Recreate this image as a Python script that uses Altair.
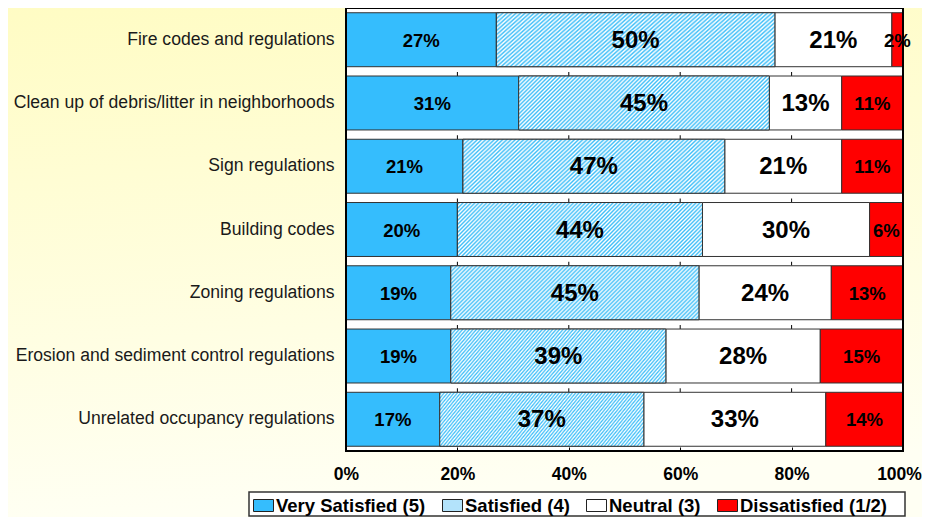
import altair as alt
import pandas as pd

# ---------------- data ----------------
CATEGORIES = [
    "Fire codes and regulations",
    "Clean up of debris/litter in neighborhoods",
    "Sign regulations",
    "Building codes",
    "Zoning regulations",
    "Erosion and sediment control regulations",
    "Unrelated occupancy regulations",
]
SERIES = ["Very Satisfied (5)", "Satisfied (4)", "Neutral (3)", "Dissatisfied (1/2)"]
VERY_SATISFIED = [27, 31, 21, 20, 19, 19, 17]
SATISFIED = [50, 45, 47, 44, 45, 39, 37]
NEUTRAL = [21, 13, 21, 30, 24, 28, 33]
DISSATISFIED = [2, 11, 11, 6, 13, 15, 14]
X_TICKS = [0, 0.2, 0.4, 0.6, 0.8, 1.0]
GAP_TICKS = [0.2, 0.4, 0.6, 0.8]

# ---------------- styles ----------------
COLORS = ["#35bdfd", "#b3e3fb", "#ffffff", "#ff0000"]
BIG_LABELS = [SERIES[1], SERIES[2]]
FONT = "Liberation Sans"
W, H = 557, 443
PAD = {"left": 338, "top": 0, "right": 19, "bottom": 66}

rows = []
for i, c in enumerate(CATEGORIES):
    for j, (s, vals) in enumerate(zip(SERIES, [VERY_SATISFIED, SATISFIED, NEUTRAL, DISSATISFIED])):
        rows.append({"category": c, "series": s, "value": vals[i], "order": j})
df = pd.DataFrame(rows)

ticks_df = pd.DataFrame([{"category": c, "t": t} for c in CATEGORIES[1:] for t in GAP_TICKS])

# gradients
bg_grad = alt.LinearGradient(
    gradient="linear", x1=0, y1=0, x2=0.15, y2=1,
    stops=[alt.GradientStop(color="#fffcc4", offset=0),
           alt.GradientStop(color="#fffff3", offset=1)],
)
N_STRIPES = 78
stops = []
for k in range(N_STRIPES):
    a = k / N_STRIPES
    m = (k + 0.5) / N_STRIPES
    stops += [alt.GradientStop(color="#ffffff", offset=a),
              alt.GradientStop(color="#40bff8", offset=m)]
stops.append(alt.GradientStop(color="#ffffff", offset=1))
hatch_grad = alt.LinearGradient(gradient="linear", x1=0, y1=0, x2=1.2, y2=0.26, stops=stops)

y_enc = alt.Y(
    "category:N", sort=CATEGORIES,
    scale=alt.Scale(paddingInner=0.147, paddingOuter=0.075),
    axis=alt.Axis(title=None, domain=False, ticks=False, labelFont=FONT, labelFontSize=17.6,
                  labelPadding=12, labelColor="#1a1a1a", labelLimit=400, zindex=1),
)
x_enc = alt.X(
    "v0:Q", scale=alt.Scale(domain=[0, 1], nice=False),
    axis=alt.Axis(title=None, format="%", values=X_TICKS, domain=False, grid=False,
                  ticks=True, tickSize=4, tickColor="black", offset=-4, labelFlush=False,
                  labelOffset={"condition": {"test": "datum.value == 1", "value": -4}, "value": 0},
                  labelFont=FONT, labelFontSize=17.5, labelFontWeight="bold",
                  labelColor="black", labelPadding=14, zindex=1),
)

stacked = alt.Chart(df).transform_stack(
    stack="value", groupby=["category"], as_=["v0", "v1"], offset="normalize",
    sort=[alt.SortField("order", order="ascending")],
)

one = alt.Data(values=[{"k": 1}])

background = alt.Chart(one).mark_rect(fill=bg_grad).encode(
    x=alt.value(-PAD["left"]), x2=alt.value(W + PAD["right"]),
    y=alt.value(0), y2=alt.value(H + PAD["bottom"]),
)
plot_bg = alt.Chart(one).mark_rect(fill="white").encode(
    x=alt.value(0), x2=alt.value(W), y=alt.value(0), y2=alt.value(H),
)
gap_ticks = alt.Chart(ticks_df).mark_rule(color="black", strokeWidth=1, yOffset=-4, y2Offset=0).encode(
    x=alt.X("t:Q"),
    y=alt.Y("category:N", sort=CATEGORIES, bandPosition=0),
    y2=alt.Y2(field="category", bandPosition=0),
)
bars = stacked.mark_bar(stroke="#333333", strokeWidth=1, opacity=1).encode(
    x=x_enc, x2="v1:Q", y=y_enc,
    color=alt.Color(
        "series:N", scale=alt.Scale(domain=SERIES, range=COLORS),
        legend=alt.Legend(
            title=None, orient="none", legendX=-93, legendY=487, direction="horizontal",
            symbolType="M-1,-0.6H1V0.6H-1Z", symbolSize=400, symbolStrokeColor="#222222",
            symbolStrokeWidth=1, symbolOpacity=1, labelFont=FONT, labelFontSize=18.5,
            labelFontWeight="bold", labelColor="black", labelOffset=2, columnPadding=14,
            labelLimit=300, padding=0, zindex=2,
        ),
    ),
)
hatch = stacked.transform_filter(alt.datum.series == SERIES[1]).mark_bar(
    fill=hatch_grad, stroke="#333333", strokeWidth=1, opacity=1
).encode(x="v0:Q", x2="v1:Q", y=alt.Y("category:N", sort=CATEGORIES))

frame = alt.Chart(one).mark_rect(fillOpacity=0, stroke="black", strokeWidth=2).encode(
    x=alt.value(0), x2=alt.value(W), y=alt.value(0), y2=alt.value(H),
)
label_base = stacked.transform_calculate(
    mid="(datum.v0 + datum.v1) / 2", label="datum.value + '%'"
)
labels_big = label_base.transform_filter(
    alt.FieldOneOfPredicate(field="series", oneOf=BIG_LABELS)
).mark_text(font=FONT, fontWeight="bold", color="black", baseline="middle", align="center",
            dy=1, fontSize=24).encode(
    x="mid:Q", y=alt.Y("category:N", sort=CATEGORIES), text="label:N",
)
labels_small = label_base.transform_filter(
    ~alt.FieldOneOfPredicate(field="series", oneOf=BIG_LABELS)
).mark_text(font=FONT, fontWeight="bold", color="black", baseline="middle", align="center",
            dy=1, fontSize=18.5).encode(
    x="mid:Q", y=alt.Y("category:N", sort=CATEGORIES), text="label:N",
)
legend_box = alt.Chart(one).mark_rect(fill="white", stroke="#333333", strokeWidth=1.5).encode(
    x=alt.value(-97), x2=alt.value(559), y=alt.value(484), y2=alt.value(508),
)

chart = alt.layer(
    background, plot_bg, gap_ticks, bars, hatch, frame, labels_big, labels_small, legend_box
).properties(
    width=W, height=H, autosize=alt.AutoSizeParams(type="none"), padding=PAD,
).configure_view(strokeWidth=0).configure(background="#fffff3")

chart.save("out.html", embed_options={"renderer": "svg", "actions": False})
